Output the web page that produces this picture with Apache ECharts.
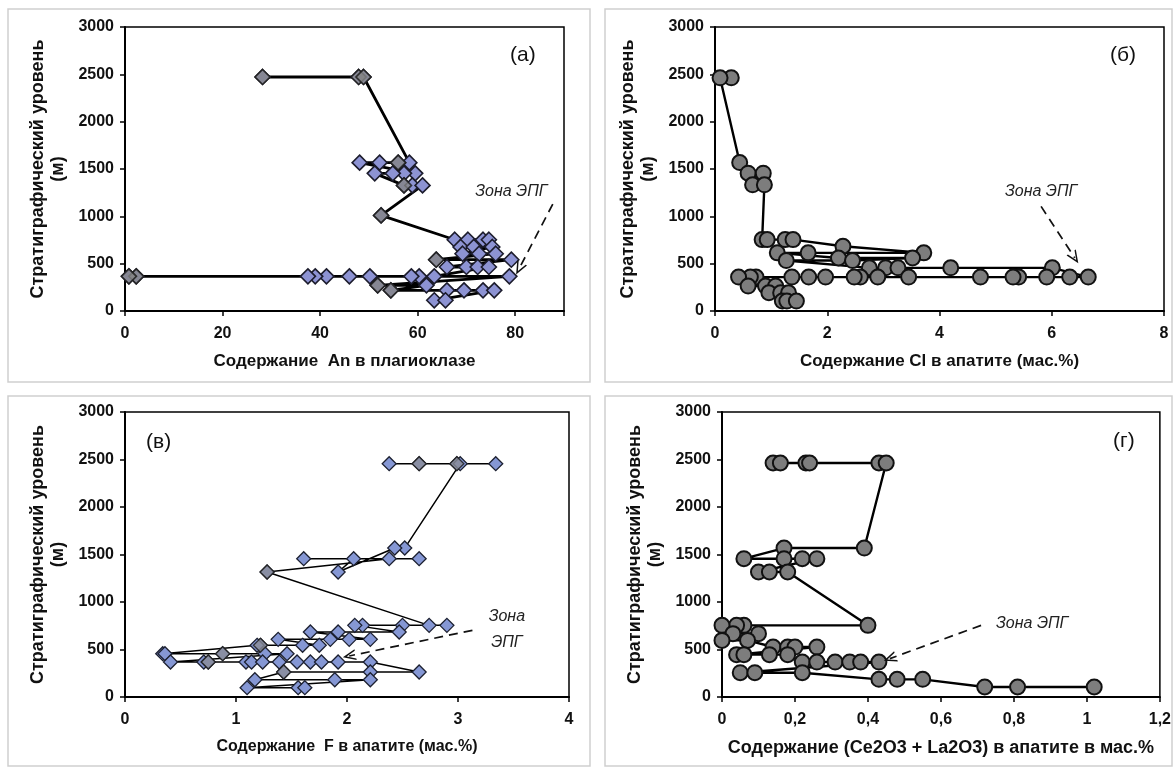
<!DOCTYPE html>
<html>
<head>
<meta charset="utf-8">
<script src="https://cdn.jsdelivr.net/npm/echarts@6/dist/echarts.min.js"></script>
<style>
  html, body { margin: 0; padding: 0; background: #fff; }
  #chart { width: 1174px; height: 769px; }
</style>
</head>
<body>
<div id="chart"></div>
<script>
// (а) содержание An в плагиоклазе
const anX = [28.2, 47.9, 48.9, 58.3, 56, 52.2, 48.1, 59.5, 57.2, 54.9, 51.2, 57.2, 58.9, 61, 52.5,
  67.6, 70.3, 73.4, 74.6, 68.8, 71.5, 75.3, 69.2, 72.6, 76, 63.8, 79.2, 66, 70, 72.3, 74.6,
  63.4, 60.3, 58.7, 50.2, 46, 41.3, 39, 37.5, 2.3, 0.8, 78.8, 51.8, 61.8, 54.5, 66, 69.5, 73.4, 75.7, 63.4, 65.7]
const anY = [2472, 2472, 2472, 1567, 1567, 1567, 1567, 1454, 1454, 1454, 1454, 1327, 1327, 1327, 1010,
  753, 753, 753, 753, 676, 676, 676, 605, 605, 605, 542, 542, 465, 465, 465, 465,
  366, 366, 366, 366, 366, 366, 366, 366, 366, 366, 366, 271, 271, 218, 218, 218, 218, 218, 113, 113]
const anGreyX = [28.2, 47.9, 48.9, 56, 57.2, 52.5, 63.8, 2.3, 0.8, 54.5, 51.8]
const anGreyY = [2472, 2472, 2472, 1567, 1327, 1010, 542, 366, 366, 218, 271]

// (б) содержание Cl в апатите
const clX = [0.29, 0.09, 0.44, 0.59, 0.86, 0.67, 0.88, 0.84, 0.93, 1.25, 1.39, 2.28, 3.72, 1.66, 1.11,
  2.2, 3.52, 2.45, 1.27, 2.75, 3.04, 3.26, 4.2, 6.01, 6.65, 6.32, 5.91, 5.41, 5.31, 4.73, 3.45, 2.9,
  2.59, 2.48, 1.97, 1.67, 1.37, 0.73, 0.63, 0.42, 0.59, 0.9, 1.08, 0.96, 1.17, 1.31, 1.2, 1.28, 1.45]
const clY = [2463, 2463, 1568, 1456, 1456, 1333, 1333, 754, 754, 754, 754, 684, 614, 614, 614,
  560, 560, 533, 533, 456, 456, 456, 456, 456, 358, 358, 358, 358, 358, 358, 358, 358,
  358, 358, 358, 358, 358, 358, 358, 358, 263, 263, 263, 193, 193, 193, 105, 105, 105]

// (в) содержание F в апатите
const fX = [2.38, 2.65, 2.99, 3.34, 3.02, 2.52, 2.43, 1.92, 2.06, 1.61, 2.65, 2.38, 1.28, 2.74, 2.9,
  2.5, 2.14, 2.07, 2.47, 1.92, 1.67, 2.21, 2.02, 1.85, 1.38, 1.75, 1.6, 1.22, 1.19, 0.34, 0.36,
  0.88, 1.26, 1.46, 0.41, 0.71, 0.75, 1.09, 1.14, 1.24, 1.39, 1.55, 1.67, 1.77, 1.92, 2.21,
  2.65, 2.21, 1.43, 1.17, 1.89, 2.21, 1.1, 1.56, 1.62]
const fY = [2456, 2456, 2456, 2456, 2456, 1568, 1568, 1316, 1456, 1456, 1456, 1456, 1316, 754, 754,
  754, 754, 754, 684, 684, 684, 607, 607, 607, 607, 544, 544, 544, 544, 456, 456,
  456, 456, 456, 368, 368, 368, 368, 368, 368, 368, 368, 368, 368, 368, 368,
  263, 263, 263, 182, 182, 182, 98, 98, 98]
const fGreyX = [2.65, 2.99, 1.28, 0.88, 0.75, 1.43, 1.22]
const fGreyY = [2456, 2456, 1316, 456, 368, 263, 544]

// (г) содержание (Ce2O3 + La2O3) в апатите
const reeX = [0.14, 0.16, 0.23, 0.24, 0.43, 0.45, 0.39, 0.17, 0.06, 0.17, 0.22, 0.26, 0.1, 0.13, 0.18,
  0.4, 0.06, 0.04, 0, 0.03, 0.1, 0, 0.07, 0.14, 0.18, 0.2, 0.26, 0.04, 0.06, 0.13, 0.18,
  0.22, 0.26, 0.31, 0.35, 0.38, 0.43, 0.05, 0.09, 0.22, 0.43, 0.48, 0.55, 0.72, 0.81, 1.02]
const reeY = [2463, 2463, 2463, 2463, 2463, 2463, 1568, 1568, 1456, 1456, 1456, 1456, 1316, 1316, 1316,
  754, 754, 754, 754, 667, 667, 596, 596, 526, 526, 526, 526, 446, 446, 446, 446,
  368, 368, 368, 368, 368, 368, 256, 256, 256, 186, 186, 186, 105, 105, 105]

const xNames = ['Содержание  An в плагиоклазе', 'Содержание Cl в апатите (мас.%)',
  'Содержание  F в апатите (мас.%)', 'Содержание (Ce2O3 + La2O3) в апатите в мас.%']
const xNameSize = [17, 17, 16, 18]
const xMax = [90, 8, 4, 1.2]
const xStep = [20, 2, 1, 0.2]
const panelTags = ['(а)', '(б)', '(в)', '(г)']

const FONT = 'Liberation Sans'
const chart = echarts.init(document.getElementById('chart'))

const grids = [
  { left: 125, top: 27, width: 439, height: 284 },
  { left: 715, top: 27, width: 449, height: 284 },
  { left: 125, top: 412, width: 444, height: 285 },
  { left: 722, top: 412, width: 442, height: 285 }
]

const pairs = (xs, ys) => xs.map((x, i) => [x, ys[i]])
const chevron = 'path://M0,10 L5,0 L10,10 L8.6,10 L5,3 L1.4,10 Z'

function zone(i, text, at, from, to) {
  return {
    type: 'scatter', xAxisIndex: i, yAxisIndex: i, data: [], silent: true, z: 5,
    markLine: {
      silent: true,
      symbol: ['none', chevron],
      symbolSize: [11, 13],
      label: { show: false },
      lineStyle: { color: '#111', type: [9, 6], width: 1.7 },
      data: [[{ coord: from }, { coord: to }]]
    },
    markPoint: {
      silent: true,
      symbol: 'rect',
      symbolSize: 1,
      itemStyle: { color: 'rgba(0,0,0,0)' },
      label: {
        show: true, position: 'inside', formatter: text, color: '#222',
        fontFamily: FONT, fontStyle: 'italic', fontSize: 16, lineHeight: 26
      },
      data: [{ coord: at }]
    }
  }
}

const lineStyleOf = (w) => ({ color: '#000', width: w })

chart.setOption({
  animation: false,
  backgroundColor: '#fff',
  graphic: [
    { type: 'rect', shape: { x: 8, y: 9, width: 582, height: 373 }, style: { fill: 'none', stroke: '#cfcfcf', lineWidth: 1.5 } },
    { type: 'rect', shape: { x: 605, y: 9, width: 567, height: 373 }, style: { fill: 'none', stroke: '#cfcfcf', lineWidth: 1.5 } },
    { type: 'rect', shape: { x: 8, y: 396, width: 582, height: 370 }, style: { fill: 'none', stroke: '#cfcfcf', lineWidth: 1.5 } },
    { type: 'rect', shape: { x: 605, y: 396, width: 567, height: 370 }, style: { fill: 'none', stroke: '#cfcfcf', lineWidth: 1.5 } },
    { type: 'text', left: 510, top: 45, style: { text: panelTags[0], font: '21px "Liberation Sans"', fill: '#111' } },
    { type: 'text', left: 1110, top: 45, style: { text: panelTags[1], font: '21px "Liberation Sans"', fill: '#111' } },
    { type: 'text', left: 146, top: 432, style: { text: panelTags[2], font: '21px "Liberation Sans"', fill: '#111' } },
    { type: 'text', left: 1113, top: 431, style: { text: panelTags[3], font: '21px "Liberation Sans"', fill: '#111' } }
  ],
  grid: grids.map(g => Object.assign({ show: true, borderColor: '#000', borderWidth: 1.5, backgroundColor: '#fff' }, g)),
  xAxis: grids.map((g, i) => ({
    type: 'value', gridIndex: i, min: 0, max: xMax[i], interval: xStep[i],
    name: xNames[i], nameLocation: 'middle', nameGap: 42,
    nameTextStyle: { fontFamily: FONT, fontWeight: 'bold', fontSize: xNameSize[i], color: '#111' },
    axisLine: { lineStyle: { color: '#000', width: 2 } },
    axisTick: { lineStyle: { color: '#000', width: 1.5 }, length: 5 },
    axisLabel: {
      fontFamily: FONT, fontWeight: 'bold', fontSize: 16, color: '#111', margin: 15,
      formatter: v => (i === 0 && v > 80) ? '' : String(+v.toFixed(2)).replace('.', ',')
    },
    splitLine: { show: false }
  })),
  yAxis: grids.map((g, i) => ({
    type: 'value', gridIndex: i, min: 0, max: 3000, interval: 500,
    name: 'Стратиграфический уровень\n(м)', nameLocation: 'middle', nameRotate: 90, nameGap: 57,
    nameTextStyle: { fontFamily: FONT, fontWeight: 'bold', fontSize: 18, color: '#111', lineHeight: 20 },
    axisLine: { lineStyle: { color: '#000', width: 2 } },
    axisTick: { lineStyle: { color: '#000', width: 1.5 }, length: 5 },
    axisLabel: { fontFamily: FONT, fontWeight: 'bold', fontSize: 16, color: '#111', margin: 11, formatter: v => String(v) },
    splitLine: { show: false }
  })),
  series: [
    {
      type: 'line', xAxisIndex: 0, yAxisIndex: 0, data: pairs(anX, anY), showAllSymbol: true,
      symbol: 'diamond', symbolSize: 15, lineStyle: lineStyleOf(2.8),
      itemStyle: { color: '#8d93d3', borderColor: '#1c1c2c', borderWidth: 1.6 }
    },
    {
      type: 'scatter', xAxisIndex: 0, yAxisIndex: 0, data: pairs(anGreyX, anGreyY),
      symbol: 'diamond', symbolSize: 15, z: 3,
      itemStyle: { color: '#858585', borderColor: '#1c1c1c', borderWidth: 1.6 }
    },
    {
      type: 'line', xAxisIndex: 1, yAxisIndex: 1, data: pairs(clX, clY), showAllSymbol: true,
      symbol: 'circle', symbolSize: 15, lineStyle: lineStyleOf(2.4),
      itemStyle: { color: '#7d7d7d', borderColor: '#111', borderWidth: 2 }
    },
    {
      type: 'line', xAxisIndex: 2, yAxisIndex: 2, data: pairs(fX, fY), showAllSymbol: true,
      symbol: 'diamond', symbolSize: 14, lineStyle: lineStyleOf(1.5),
      itemStyle: { color: '#8597d4', borderColor: '#1c2030', borderWidth: 1.3 }
    },
    {
      type: 'scatter', xAxisIndex: 2, yAxisIndex: 2, data: pairs(fGreyX, fGreyY),
      symbol: 'diamond', symbolSize: 14, z: 3,
      itemStyle: { color: '#8a8c96', borderColor: '#1c1c1c', borderWidth: 1.3 }
    },
    {
      type: 'line', xAxisIndex: 3, yAxisIndex: 3, data: pairs(reeX, reeY), showAllSymbol: true,
      symbol: 'circle', symbolSize: 15, lineStyle: lineStyleOf(2.4),
      itemStyle: { color: '#7d7d7d', borderColor: '#111', borderWidth: 2 }
    },
    zone(0, 'Зона ЭПГ', [79.2, 1257], [87.7, 1130], [80.8, 447]),
    zone(1, 'Зона ЭПГ', [5.81, 1263], [5.81, 1105], [6.41, 561]),
    zone(2, 'Зона\nЭПГ', [3.44, 710], [3.13, 702], [2.02, 432]),
    zone(3, 'Зона ЭПГ', [0.85, 772], [0.71, 754], [0.46, 404])
  ]
})
</script>
</body>
</html>
